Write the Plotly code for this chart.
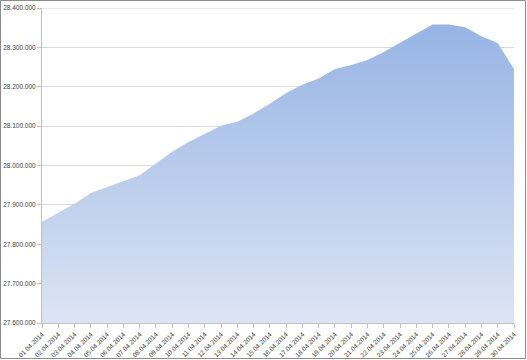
import plotly.graph_objects as go

dates = [f"{d:02d}.04.2014" for d in range(1, 31)]
values = [27857000, 27880000, 27903000, 27930000, 27945000, 27960000, 27975000,
          28005000, 28035000, 28060000, 28080000, 28101000, 28111000, 28132000,
          28157000, 28184000, 28205000, 28221000, 28245000, 28255000, 28268000,
          28288000, 28312000, 28335000, 28358000, 28358000, 28351000, 28328000,
          28311000, 28245000]
y_ticks = [27600000, 27700000, 27800000, 27900000, 28000000, 28100000,
           28200000, 28300000, 28400000]
y_tick_labels = ["27.600.000", "27.700.000", "27.800.000", "27.900.000",
                 "28.000.000", "28.100.000", "28.200.000", "28.300.000",
                 "28.400.000"]

W, H = 527, 360
ML, MR, MT, MB = 42, 13, 8, 37
pw, ph = W - ML - MR, H - MT - MB
FONT = "Liberation Sans"

fig = go.Figure()
fig.add_trace(go.Scatter(
    x=dates, y=values, mode="lines", line=dict(width=0, color="rgba(0,0,0,0)"),
    fill="tozeroy",
    fillgradient=dict(type="vertical", start=27600000, stop=28360000,
                      colorscale=[[0, "rgb(221,228,244)"], [1, "rgb(150,180,228)"]]),
    hoverinfo="x+y", showlegend=False,
))
fig.add_trace(go.Scatter(x=dates, y=[28400000] * 30, mode="lines",
                         line=dict(color="#d9d9d9", width=1), hoverinfo="skip",
                         showlegend=False))

fig.update_layout(
    width=W, height=H,
    margin=dict(l=ML, r=MR, t=MT, b=MB, pad=0),
    paper_bgcolor="white", plot_bgcolor="white",
    font=dict(family=FONT, color="#404040"),
    xaxis=dict(type="category", range=[0, 29], showgrid=False, automargin=False,
               showline=True, linecolor="#bfbfbf", linewidth=1,
               ticks="outside", ticklen=4, tickcolor="#bfbfbf",
               tickangle=-45, tickfont=dict(family=FONT, size=6.5, color="#404040")),
    yaxis=dict(range=[27600000, 28400000], tickvals=y_ticks, ticktext=y_tick_labels,
               automargin=False,
               showgrid=True, gridcolor="#d9d9d9", gridwidth=1,
               showline=True, linecolor="#bfbfbf", linewidth=1,
               ticks="outside", ticklen=4, tickcolor="#bfbfbf",
               zeroline=False, tickfont=dict(family=FONT, size=6.5, color="#404040")),
    shapes=[dict(type="rect", xref="paper", yref="paper",
                 x0=(0.5 - ML) / pw, x1=1 + (MR - 1.5) / pw,
                 y0=-(MB - 1.5) / ph, y1=1 + (MT - 0.5) / ph,
                 line=dict(color="#8c8c8c", width=1), layer="above")],
)

fig.write_html("out.html")
